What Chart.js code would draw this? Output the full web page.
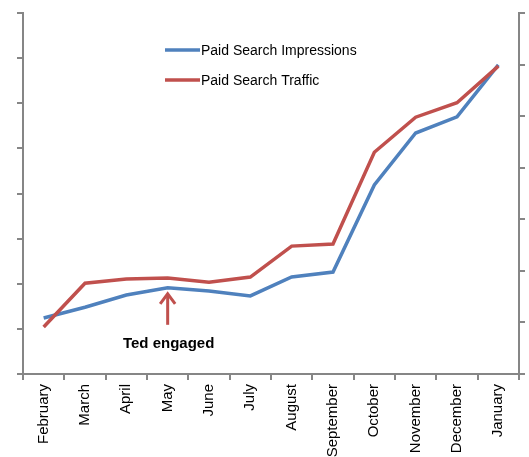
<!DOCTYPE html>
<html>
<head>
<meta charset="utf-8">
<script src="https://cdn.jsdelivr.net/npm/chart.js@4/dist/chart.umd.min.js"></script>
<style>
html,body{margin:0;padding:0;background:#fff;overflow:hidden;}
canvas{display:block;}
</style>
</head>
<body>
<canvas id="c" width="529" height="457"></canvas>
<script>
const categories = ["February","March","April","May","June","July","August","September","October","November","December","January"];
const impressions = [1.24, 1.48, 1.75, 1.91, 1.84, 1.73, 2.15, 2.26, 4.19, 5.34, 5.70, 6.85];
const traffic = [0.91, 1.76, 1.84, 1.86, 1.78, 1.88, 2.48, 2.52, 4.30, 4.98, 5.26, 5.97];
const seriesNames = ["Paid Search Impressions", "Paid Search Traffic"];
const seriesColors = ["#4F81BD", "#C0504D"];
const annotationText = "Ted engaged";
const annotationIndex = 3;

const axisColor = "#868686";

const overlay = {
  id: "overlay",
  afterDatasetsDraw(chart) {
    const ctx = chart.ctx;
    const area = chart.chartArea;
    // legend
    ctx.save();
    ctx.font = "14px 'Liberation Sans', Arial, sans-serif";
    ctx.textBaseline = "middle";
    chart.data.datasets.forEach((ds, i) => {
      const y = area.top + 37 + i * 30;
      const x0 = area.left + 142;
      ctx.strokeStyle = ds.borderColor;
      ctx.lineWidth = 3.5;
      ctx.beginPath();
      ctx.moveTo(x0, y);
      ctx.lineTo(x0 + 35, y);
      ctx.stroke();
      ctx.fillStyle = "#000";
      ctx.textAlign = "left";
      ctx.fillText(ds.label, x0 + 36, y + 1);
    });
    // annotation arrow
    const xs = chart.scales.x, ys = chart.scales.y;
    const ax = xs.getPixelForValue(annotationIndex);
    const tip = ys.getPixelForValue(impressions[annotationIndex]) + 5;
    ctx.strokeStyle = seriesColors[1];
    ctx.lineWidth = 3;
    ctx.beginPath();
    ctx.moveTo(ax, tip + 2);
    ctx.lineTo(ax, tip + 32);
    ctx.stroke();
    ctx.beginPath();
    ctx.moveTo(ax - 7.5, tip + 11);
    ctx.lineTo(ax, tip + 1);
    ctx.lineTo(ax + 7.5, tip + 11);
    ctx.stroke();
    ctx.font = "bold 15px 'Liberation Sans', Arial, sans-serif";
    ctx.fillStyle = "#000";
    ctx.textAlign = "center";
    ctx.textBaseline = "middle";
    ctx.fillText(annotationText, ax + 1, tip + 51);
    ctx.restore();
  }
};

new Chart(document.getElementById("c"), {
  type: "line",
  data: {
    labels: categories,
    datasets: [
      { label: seriesNames[0], data: impressions, yAxisID: "y", borderColor: seriesColors[0], backgroundColor: seriesColors[0], borderWidth: 3.5, pointRadius: 0, tension: 0, order: 2 },
      { label: seriesNames[1], data: traffic, yAxisID: "y2", borderColor: seriesColors[1], backgroundColor: seriesColors[1], borderWidth: 3.5, pointRadius: 0, tension: 0, order: 1 }
    ]
  },
  options: {
    responsive: false,
    animation: false,
    devicePixelRatio: 1,
    layout: { padding: { top: 13, left: 0, right: 0, bottom: 0 } },
    plugins: { legend: { display: false }, tooltip: { enabled: false } },
    scales: {
      x: {
        type: "category",
        offset: true,
        grid: { offset: true, drawOnChartArea: false, drawTicks: true, tickLength: 6, color: axisColor, lineWidth: 2 },
        border: { color: axisColor, width: 2 },
        ticks: { autoSkip: false, maxRotation: 90, minRotation: 90, padding: 4, color: "#000", font: { family: "'Liberation Sans', Arial, sans-serif", size: 15 } },
        afterFit(s) { s.height = 83; }
      },
      y: {
        position: "left",
        min: 0, max: 8,
        grid: { drawOnChartArea: false, drawTicks: true, tickLength: 6, color: axisColor, lineWidth: 2 },
        border: { color: axisColor, width: 2 },
        ticks: { display: false, stepSize: 1 },
        afterFit(s) { s.width = 23; }
      },
      y2: {
        position: "right",
        min: 0, max: 7,
        grid: { drawOnChartArea: false, drawTicks: true, tickLength: 6, color: axisColor, lineWidth: 2 },
        border: { color: axisColor, width: 2 },
        ticks: { display: false, stepSize: 1 },
        afterFit(s) { s.width = 10; }
      }
    }
  },
  plugins: [overlay]
});
</script>
</body>
</html>
